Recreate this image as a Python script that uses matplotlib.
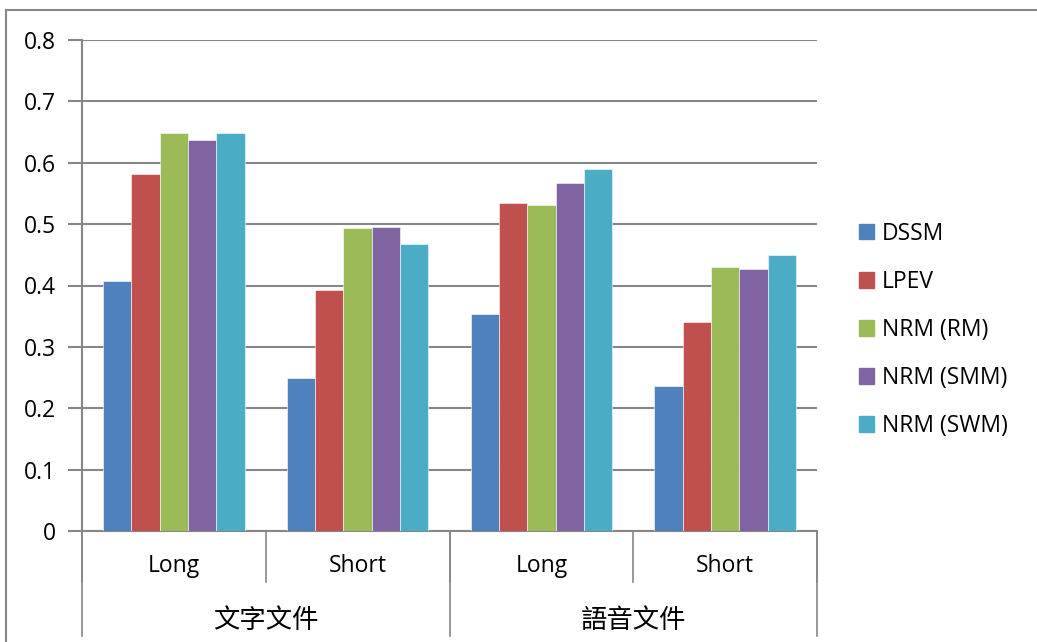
import matplotlib.pyplot as plt
from matplotlib.lines import Line2D
from matplotlib.patches import Patch
import numpy as np

plt.rcParams['font.family'] = ['Open Sans', 'Noto Sans CJK TC', 'DejaVu Sans']

# data
groups = ['文字文件', '語音文件']
lengths = ['Long', 'Short', 'Long', 'Short']
models = ['DSSM', 'LPEV', 'NRM (RM)', 'NRM (SMM)', 'NRM (SWM)']
dssm = [0.407, 0.249, 0.353, 0.236]
lpev = [0.581, 0.392, 0.534, 0.340]
nrm_rm = [0.648, 0.493, 0.531, 0.430]
nrm_smm = [0.637, 0.495, 0.567, 0.427]
nrm_swm = [0.648, 0.467, 0.590, 0.450]
yticks = [0, 0.1, 0.2, 0.3, 0.4, 0.5, 0.6, 0.7, 0.8]

colors = ['#4F81BD', '#C0504D', '#9BBB59', '#8064A2', '#4BACC6']
grid_c = '#868686'

W, H = 1037, 642
fig = plt.figure(figsize=(W/100, H/100), dpi=100)
ax = fig.add_axes([82/W, (H-531)/H, 735/W, 491/H])

series = [dssm, lpev, nrm_rm, nrm_smm, nrm_swm]
n = len(series)
bw = 1/(n + 1.5)
x = np.arange(len(lengths))
for i, vals in enumerate(series):
    ax.bar(x - 0.5 + 0.75*bw + (i + 0.5)*bw, vals, width=bw, color=colors[i],
           label=models[i], zorder=3, edgecolor='white', linewidth=0.4)

ax.set_xlim(-0.5, len(lengths) - 0.5)
ax.set_ylim(0, 0.8)
ax.set_yticks(yticks)
ax.set_yticklabels(['0' if t == 0 else f'{t:.1f}' for t in yticks], fontsize=16.5)
ax.tick_params(axis='y', length=10, width=1.5, color=grid_c, pad=9)
ax.set_xticks([])
for s in ['top', 'right']:
    ax.spines[s].set_visible(False)
for s in ['left', 'bottom']:
    ax.spines[s].set_color(grid_c)
    ax.spines[s].set_linewidth(1.5)
ax.yaxis.grid(True, color=grid_c, linewidth=1.5, zorder=0)
ax.set_axisbelow(True)

# multi-level category axis
tr = ax.get_xaxis_transform()
ppx = 1/491  # axes-fraction per pixel vertically
for xi in np.arange(-0.5, len(lengths), 1):
    ax.add_line(Line2D([xi, xi], [0, -51*ppx], transform=tr, color=grid_c,
                       linewidth=1.2, clip_on=False))
for xi in [-0.5, 1.5, 3.5]:
    ax.add_line(Line2D([xi, xi], [0, -105*ppx], transform=tr, color=grid_c,
                       linewidth=1.2, clip_on=False))
for xi, lab in zip(x, lengths):
    ax.text(xi, -35*ppx, lab, transform=tr, ha='center', va='center', fontsize=16.5)
for gi, g in enumerate(groups):
    ax.text(2*gi + 0.5, -89*ppx, g, transform=tr, ha='center', va='center',
            fontsize=19, family=['Noto Sans CJK TC'], fontweight='light')

handles = [Patch(color=c) for c in colors]
fig.legend(handles, models, loc='center left', bbox_to_anchor=(859/W, (H-330)/H),
           frameon=False, fontsize=16.5, handlelength=0.65, handleheight=0.65,
           handletextpad=0.35, labelspacing=1.05, borderpad=0, borderaxespad=0)

# chart border
fig.add_artist(Line2D([6/W, 6/W], [0, (H-10)/H], color=grid_c, linewidth=1.5))
fig.add_artist(Line2D([6/W, 1], [(H-10)/H, (H-10)/H], color=grid_c, linewidth=1.5))

fig.savefig('out.png', dpi=100, facecolor='white')
